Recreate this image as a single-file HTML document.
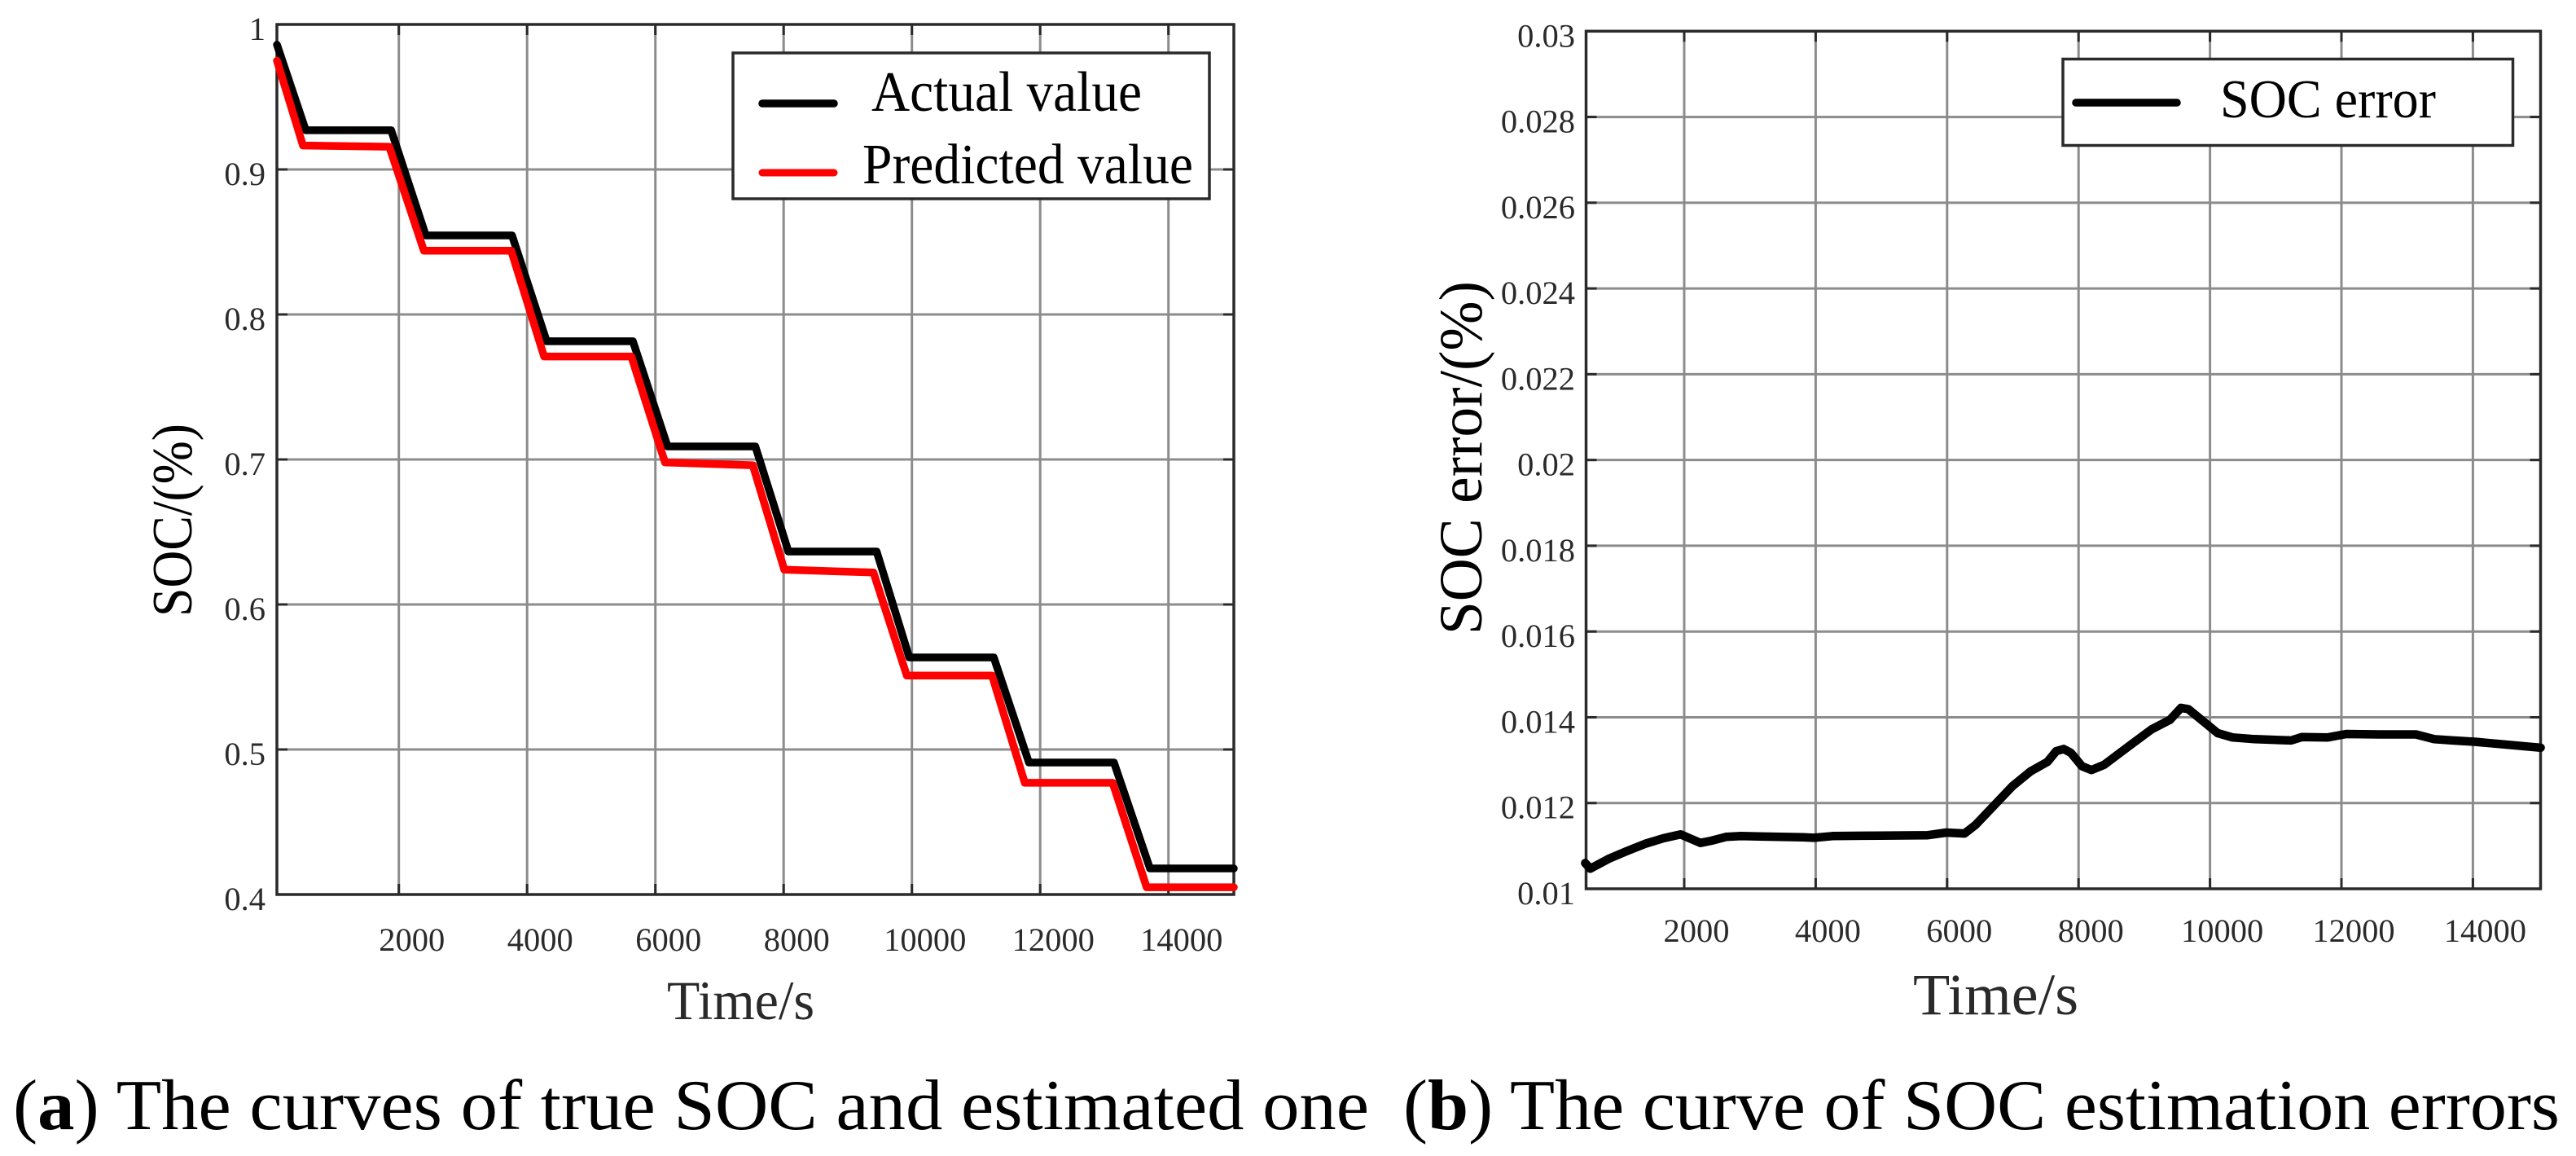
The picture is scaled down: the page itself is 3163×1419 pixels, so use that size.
<!DOCTYPE html>
<html>
<head>
<meta charset="utf-8">
<title>SOC estimation charts</title>
<style>
html,body{margin:0;padding:0;background:#fff;width:3163px;height:1419px;overflow:hidden}
svg{display:block}
text{font-family:"Liberation Serif",serif;fill:#2a2a2a}
</style>
</head>
<body>
<svg id="root" xmlns="http://www.w3.org/2000/svg" width="3163" height="1419" viewBox="0 0 3163 1419">
  <g id="panelA"></g>
  <g id="panelB"></g>

  <g>
    <rect x="900" y="65" width="585" height="179" fill="#fff" stroke="#2a2a2a" stroke-width="3.5"/>
    <line x1="936" y1="127" x2="1024" y2="127" stroke="#000" stroke-width="9.5" stroke-linecap="round"/>
    <line x1="936" y1="212" x2="1024" y2="212" stroke="#f00" stroke-width="9" stroke-linecap="round"/>
    <text x="1070" y="136" font-size="70" textLength="332" lengthAdjust="spacingAndGlyphs" style="fill:#000">Actual value</text>
    <text x="1059" y="225" font-size="70" textLength="406" lengthAdjust="spacingAndGlyphs" style="fill:#000">Predicted value</text>
  </g>

  <g>
    <rect x="2533" y="72.5" width="552.5" height="106" fill="#fff" stroke="#2a2a2a" stroke-width="3.5"/>
    <line x1="2549" y1="126" x2="2673" y2="126" stroke="#000" stroke-width="9.5" stroke-linecap="round"/>
    <text x="2726" y="144" font-size="67" textLength="265" lengthAdjust="spacingAndGlyphs" style="fill:#000">SOC error</text>
  </g>

  <text transform="translate(235 757) rotate(-90)" font-size="70" textLength="237" lengthAdjust="spacingAndGlyphs" style="fill:#000">SOC/(%)</text>
  <text transform="translate(1819 779) rotate(-90)" font-size="75" textLength="434" lengthAdjust="spacingAndGlyphs" style="fill:#000">SOC error/(%)</text>
  <text x="819" y="1251" font-size="68" textLength="181" lengthAdjust="spacingAndGlyphs">Time/s</text>
  <text x="2349" y="1245" font-size="72" textLength="203" lengthAdjust="spacingAndGlyphs">Time/s</text>

  <text x="16" y="1386" font-size="88" textLength="1665" lengthAdjust="spacingAndGlyphs" style="fill:#000">(<tspan font-weight="bold">a</tspan>) The curves of true SOC and estimated one</text>
  <text x="1723" y="1386" font-size="88" textLength="1420" lengthAdjust="spacingAndGlyphs" style="fill:#000">(<tspan font-weight="bold">b</tspan>) The curve of SOC estimation errors</text>
</svg>
<script>
const xTickValues = [2000, 4000, 6000, 8000, 10000, 12000, 14000];
const socTickValues = [1, 0.9, 0.8, 0.7, 0.6, 0.5, 0.4];
const socTickLabels = ['1', '0.9', '0.8', '0.7', '0.6', '0.5', '0.4'];
const errorTickValues = [0.03, 0.028, 0.026, 0.024, 0.022, 0.02, 0.018, 0.016, 0.014, 0.012, 0.01];
const errorTickLabels = ['0.03', '0.028', '0.026', '0.024', '0.022', '0.02', '0.018', '0.016', '0.014', '0.012', '0.01'];

const actualTime = [100, 549, 1880, 2420, 3765, 4305, 5650, 6190, 7560, 8075, 9450, 9960, 11276, 11825, 13150, 13712, 15020];
const actualSoc = [0.986, 0.927, 0.927, 0.8545, 0.8545, 0.7815, 0.7815, 0.709, 0.709, 0.6365, 0.6365, 0.5635, 0.5635, 0.491, 0.491, 0.418, 0.418];
const predictedTime = [100, 505, 1851, 2391, 3752, 4265, 5625, 6150, 7520, 8010, 9400, 9920, 11250, 11760, 13130, 13660, 15020];
const predictedSoc = [0.975, 0.9165, 0.9157, 0.844, 0.844, 0.771, 0.771, 0.698, 0.696, 0.624, 0.622, 0.551, 0.551, 0.477, 0.477, 0.405, 0.405];

const errorTime = [493, 571, 850, 1129, 1408, 1687, 1944, 2246, 2413, 2636, 2860, 3809, 3976, 4255, 4981, 5707, 5986, 6265, 6433, 6712, 6991, 7270, 7527, 7661, 7773, 7884, 8052, 8197, 8387, 8778, 9113, 9392, 9559, 9671, 9894, 10117, 10341, 10676, 11234, 11402, 11793, 12072, 12575, 13133, 13412, 13691, 14026, 15031];
const errorValue = [0.0106, 0.01047, 0.0107, 0.01088, 0.01105, 0.01118, 0.01127, 0.01107, 0.01112, 0.01121, 0.01123, 0.0112, 0.01119, 0.01123, 0.01124, 0.01125, 0.01131, 0.01129, 0.01149, 0.01194, 0.01239, 0.01274, 0.01296, 0.01321, 0.01326, 0.01317, 0.01286, 0.01277, 0.01289, 0.01334, 0.01372, 0.01394, 0.01422, 0.01419, 0.01391, 0.01363, 0.01353, 0.01349, 0.01346, 0.01354, 0.01353, 0.01361, 0.0136, 0.0136, 0.01349, 0.01346, 0.01343, 0.01329];

const NS = 'http://www.w3.org/2000/svg';
const AXIS = '#2a2a2a';
const GRID = '#8c8c8c';

function line(parent, x1, y1, x2, y2, color, width, name) {
  const el = document.createElementNS(NS, 'line');
  el.setAttribute('x1', x1);
  el.setAttribute('y1', y1);
  el.setAttribute('x2', x2);
  el.setAttribute('y2', y2);
  el.setAttribute('stroke', color);
  el.setAttribute('stroke-width', width);
  
  
  parent.appendChild(el);
}

function label(parent, x, y, str, anchor, name) {
  const el = document.createElementNS(NS, 'text');
  el.setAttribute('x', x);
  el.setAttribute('y', y);
  el.setAttribute('font-size', '40.5');
  el.setAttribute('text-anchor', anchor);
  el.textContent = str;
  
  
  parent.appendChild(el);
}

function series(parent, times, values, sx, sy, color, width, name) {
  const pts = times.map((t, i) => sx(t).toFixed(1) + ',' + sy(values[i]).toFixed(1)).join(' ');
  const el = document.createElementNS(NS, 'polyline');
  el.setAttribute('points', pts);
  el.setAttribute('fill', 'none');
  el.setAttribute('stroke', color);
  el.setAttribute('stroke-width', width);
  el.setAttribute('stroke-linejoin', 'round');
  el.setAttribute('stroke-linecap', 'round');
  
  
  parent.appendChild(el);
}

function panel(parent, box, sx, sy, yVals, yLabels, cfg) {
  xTickValues.forEach(v => {
    line(parent, sx(v), box.top, sx(v), box.bottom, GRID, 3, 'x-grid-line');
  });
  yVals.forEach(v => {
    line(parent, box.left, sy(v), box.right, sy(v), GRID, 3, 'y-grid-line');
  });
  xTickValues.forEach(v => {
    line(parent, sx(v), box.top, sx(v), box.top + 13, AXIS, 3, 'x-tick-top');
    line(parent, sx(v), box.bottom - 13, sx(v), box.bottom, AXIS, 3, 'x-tick-bottom');
    label(parent, sx(v) + cfg.xLabelOffset, cfg.xLabelY, String(v), 'middle', 'x-tick-label');
  });
  yVals.forEach((v, i) => {
    line(parent, box.left, sy(v), box.left + 13, sy(v), AXIS, 3, 'y-tick-left');
    line(parent, box.right - 13, sy(v), box.right, sy(v), AXIS, 3, 'y-tick-right');
    label(parent, cfg.yLabelX, sy(v) + 19, yLabels[i], 'end', 'y-tick-label');
  });
  const fr = document.createElementNS(NS, 'rect');
  fr.setAttribute('x', box.left);
  fr.setAttribute('y', box.top);
  fr.setAttribute('width', box.right - box.left);
  fr.setAttribute('height', box.bottom - box.top);
  fr.setAttribute('fill', 'none');
  fr.setAttribute('stroke', AXIS);
  fr.setAttribute('stroke-width', 3.5);
  
  
  parent.appendChild(fr);
}

/* Panel (a) */
const boxA = {left: 340, right: 1515, top: 30, bottom: 1098};
const xA = t => 332.2 + t * 0.07875;
const yA = v => boxA.bottom - (v - 0.4) / 0.6 * (boxA.bottom - boxA.top);
const gA = document.getElementById('panelA');
panel(gA, boxA, xA, yA, socTickValues, socTickLabels, {xLabelOffset: 16, xLabelY: 1167, yLabelX: 326});
series(gA, actualTime, actualSoc, xA, yA, '#000', 9.5, 'actual-value-line');
series(gA, predictedTime, predictedSoc, xA, yA, '#f00', 9.5, 'predicted-value-line');

/* Panel (b) */
const boxB = {left: 1947.5, right: 3119.5, top: 38.3, bottom: 1091};
const xB = t => 1906.6 + t * 0.0807;
const yB = v => boxB.bottom - (v - 0.01) / 0.02 * (boxB.bottom - boxB.top);
const gB = document.getElementById('panelB');
panel(gB, boxB, xB, yB, errorTickValues, errorTickLabels, {xLabelOffset: 15, xLabelY: 1156, yLabelX: 1934});
series(gB, errorTime, errorValue, xB, yB, '#000', 10.5, 'soc-error-line');
</script>
</body>
</html>
